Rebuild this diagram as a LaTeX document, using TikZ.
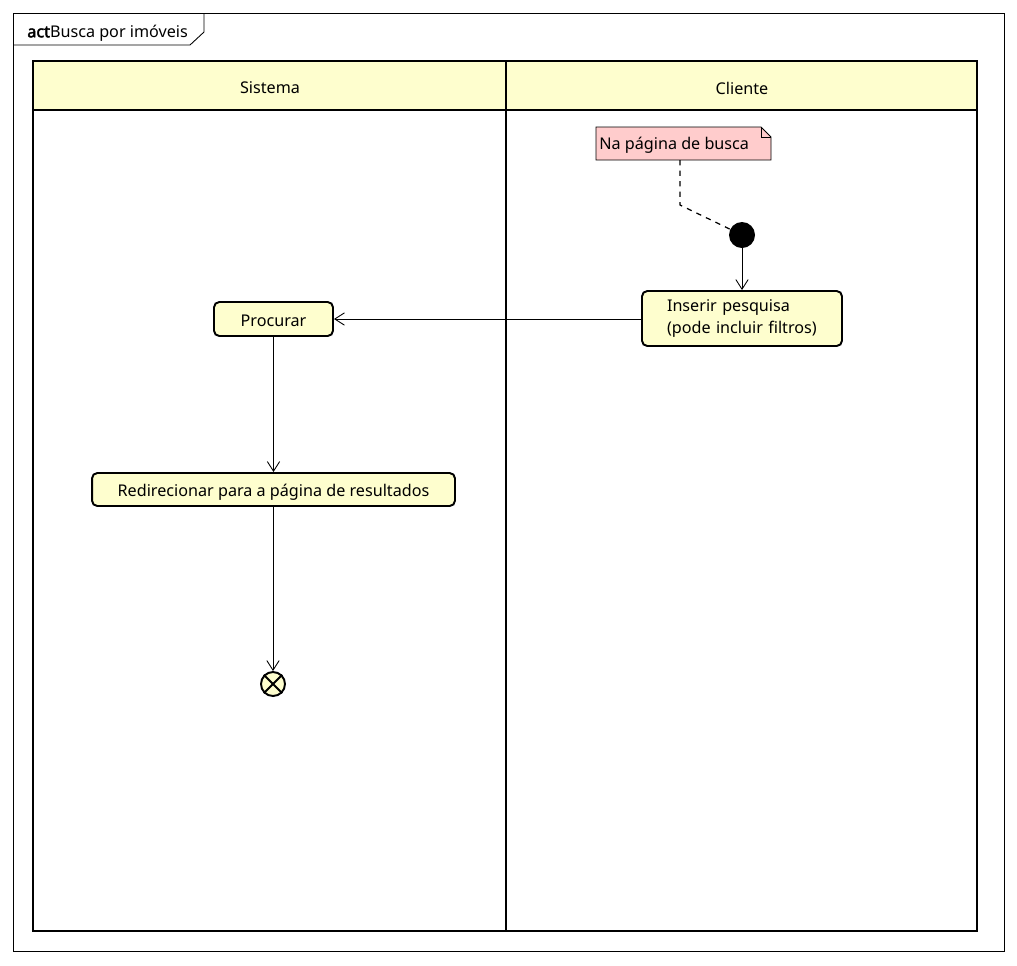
\documentclass[tikz,border=0pt]{standalone}
\usepackage{fontspec}
\setmainfont{Noto Sans}
\newfontfamily\actfont{Noto Sans}[FakeBold=2.5]
\usepackage{tikz}
\usetikzlibrary{calc,arrows.meta,shapes.misc}
\definecolor{umlyellow}{HTML}{FEFECE}
\definecolor{notepink}{HTML}{FFCCCC}

\begin{document}
\begin{tikzpicture}
[x=0.02cm,y=-0.02cm,>={Straight Barb[length=5.5pt,width=7pt]},
 action/.style={draw,rounded corners=3pt,fill=umlyellow,line width=1.1pt},
 flow/.style={->,line width=0.5pt},
 lane/.style={line width=1.4pt},
 point/.style={inner sep=0pt}]

\useasboundingbox (0,0) rectangle (1017,965);
\fontsize{9.2pt}{12.5pt}\selectfont

% the coordinates of the frame and lanes
\coordinate (F1) at (13,13);
\coordinate (F2) at (1004,951);
\coordinate (L1) at (33,61);
\coordinate (L2) at (977,931);

% the frame
\draw[line width=0.5pt] (F1) rectangle (F2);
\draw[line width=0.5pt] (13,45) -- (190,45) -- (204,32) -- (204,13);
\node[point,anchor=west] (title) at (27,33) {{\actfont act}Busca por imóveis};

% the swimlanes
\fill[umlyellow] (L1) rectangle (977,110);
\draw[lane] (L1) rectangle (L2);
\draw[lane] (33,110) -- (977,110);
\draw[lane] (506,61) -- (506,931);
\node[point] (sistema) at (270,88) {Sistema};
\node[point] (cliente) at (742,88) {Cliente};

% the note
\draw[fill=notepink,line width=0.5pt] (596,127) -- (761,127) -- (771,137) -- (771,160) -- (596,160) -- cycle;
\draw[line width=0.5pt] (761,127) -- (761,137) -- (771,137);
\node[point,anchor=west] (note) at (599,145) {Na página de busca};

% the nodes
\node[circle,fill=black,minimum size=0.52cm,inner sep=0pt] (start) at (742,235) {};
\node[action,minimum height=1.1cm,align=left,text width=3.0cm,inner xsep=0.5cm] (inserir) at (742,318.5) {Inserir pesquisa\\(pode incluir filtros)};
\node[action,minimum width=2.38cm,minimum height=0.68cm,text height=8.5pt,text depth=0pt] (procurar) at (273.5,319) {Procurar};
\node[action,minimum width=7.26cm,minimum height=0.66cm,text height=8.5pt,text depth=0pt] (redir) at (273.5,489.5) {Redirecionar para a página de resultados};
\node[draw,circle,fill=umlyellow,line width=1.1pt,minimum size=0.48cm,inner sep=0pt] (fim) at (273,684) {};
\draw[line width=1.1pt] (fim.north west) -- (fim.south east);
\draw[line width=1.1pt] (fim.north east) -- (fim.south west);

% the edges
\draw[dashed,line width=0.7pt] (680,160) -- (680,205) -- (start);
\draw[flow] (start) -- (inserir);
\draw[flow] (inserir.west |- procurar) -- (procurar);
\draw[flow] (procurar.south) -- (procurar.south |- redir.north);
\draw[flow] (redir.south -| fim) -- (fim);

\end{tikzpicture}
\end{document}
